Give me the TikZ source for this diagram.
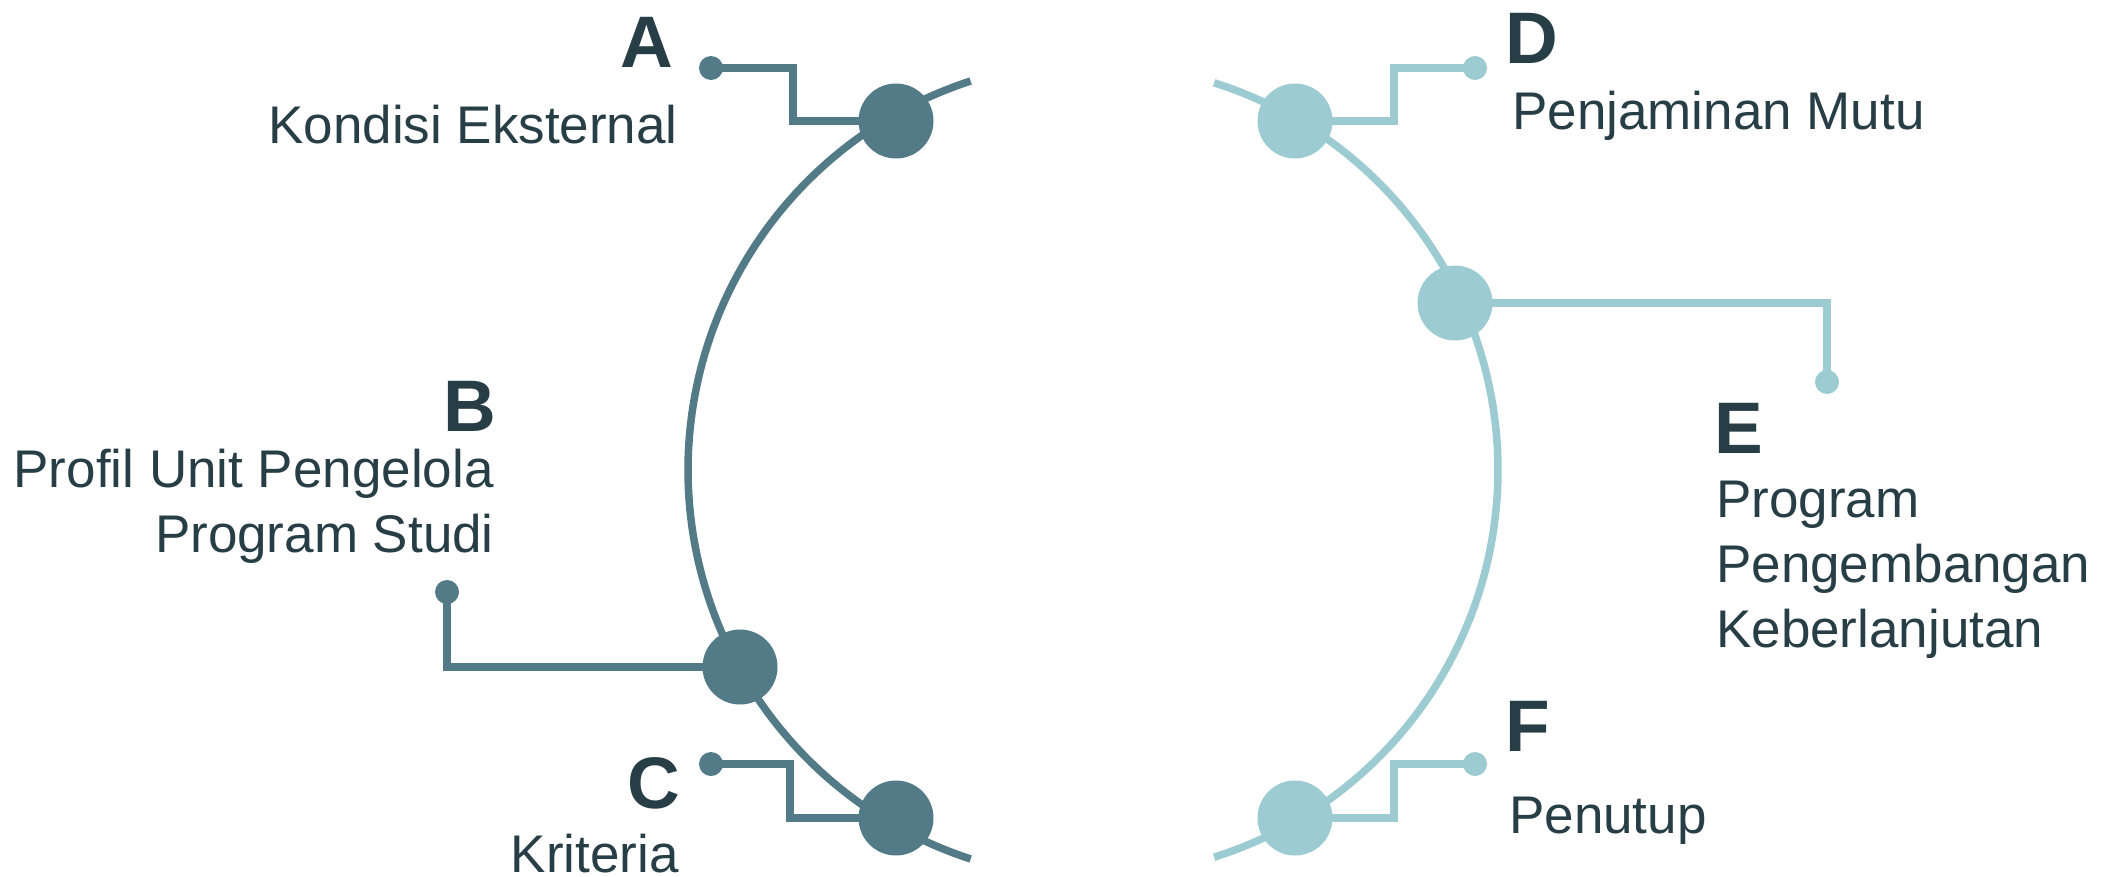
\documentclass[tikz,border=0pt]{standalone}
\usepackage{fontspec}
\setmainfont{Liberation Sans}
\definecolor{darkteal}{HTML}{527A87}
\definecolor{lightteal}{HTML}{9DCBD2}
\definecolor{inkslate}{HTML}{283E46}

\begin{document}
\begin{tikzpicture}[x=1bp,y=-1bp,
  arcline/.style={line width=7.5bp},
  hub/.style={circle, fill, inner sep=0pt, minimum size=75bp},
  pin/.style={circle, fill, inner sep=0pt, minimum size=24bp},
  lead/.style={line width=8bp},
  letter/.style={text=inkslate, inner sep=0pt, font=\fontsize{73bp}{80bp}\selectfont\bfseries},
  caption/.style={text=inkslate, inner sep=0pt, font=\fontsize{53bp}{65bp}\selectfont},
]
\fill[white] (0,0) rectangle (2110,877);
\useasboundingbox (0,0) rectangle (2110,877);

% left half: A, B, C
\begin{scope}[color=darkteal]
  \draw[arcline] plot[domain=108:252, samples=120, smooth]
    ({1097+409*cos(\x)},{470+409*sin(\x)});
  \node[hub] (A) at (896,121) {};
  \node[hub] (B) at (740,667) {};
  \node[hub] (C) at (896,818) {};
  \node[pin] (pA) at (711,68) {};
  \node[pin] (pB) at (447,592) {};
  \node[pin] (pC) at (711,764) {};
  \draw[lead] (pA.center) -- ++(82,0) |- (A.center);
  \draw[lead] (pB.center) |- (B.center);
  \draw[lead] (pC.center) -- ++(79,0) |- (C.center);
\end{scope}

% right half: D, E, F
\begin{scope}[color=lightteal]
  \draw[arcline] plot[domain=-72.5:72.5, samples=120, smooth]
    ({1092+406*cos(\x)},{470+406*sin(\x)});
  \node[hub] (D) at (1295,121) {};
  \node[hub] (E) at (1455,303) {};
  \node[hub] (F) at (1295,818) {};
  \node[pin] (pD) at (1475,68) {};
  \node[pin] (pE) at (1827,382) {};
  \node[pin] (pF) at (1475,764) {};
  \draw[lead] (pD.center) -- ++(-81,0) |- (D.center);
  \draw[lead] (pE.center) |- (E.center);
  \draw[lead] (pF.center) -- ++(-81,0) |- (F.center);
\end{scope}

% labels (multi-line nodes sit on the baseline of their last line)
\node[letter, anchor=base east] (lA) at (673,67) {A};
\node[caption, anchor=base east] (tA) at (678,143) {Kondisi Eksternal};
\node[letter, anchor=base east] (lB) at (496,431) {B};
\node[caption, anchor=base east, align=right] (tB) at (494,552) {Profil Unit Pengelola\\Program Studi};
\node[letter, anchor=base east] (lC) at (680,808) {C};
\node[caption, anchor=base east] (tC) at (679,872) {Kriteria};
\node[letter, anchor=base west] (lD) at (1505,63) {D};
\node[caption, anchor=base west] (tD) at (1512,129) {Penjaminan Mutu};
\node[letter, anchor=base west] (lE) at (1714,453) {E};
\node[caption, anchor=base west, align=left] (tE) at (1716,647) {Program\\Pengembangan\\Keberlanjutan};
\node[letter, anchor=base west] (lF) at (1505,751) {F};
\node[caption, anchor=base west] (tF) at (1509,833) {Penutup};
\end{tikzpicture}
\end{document}
